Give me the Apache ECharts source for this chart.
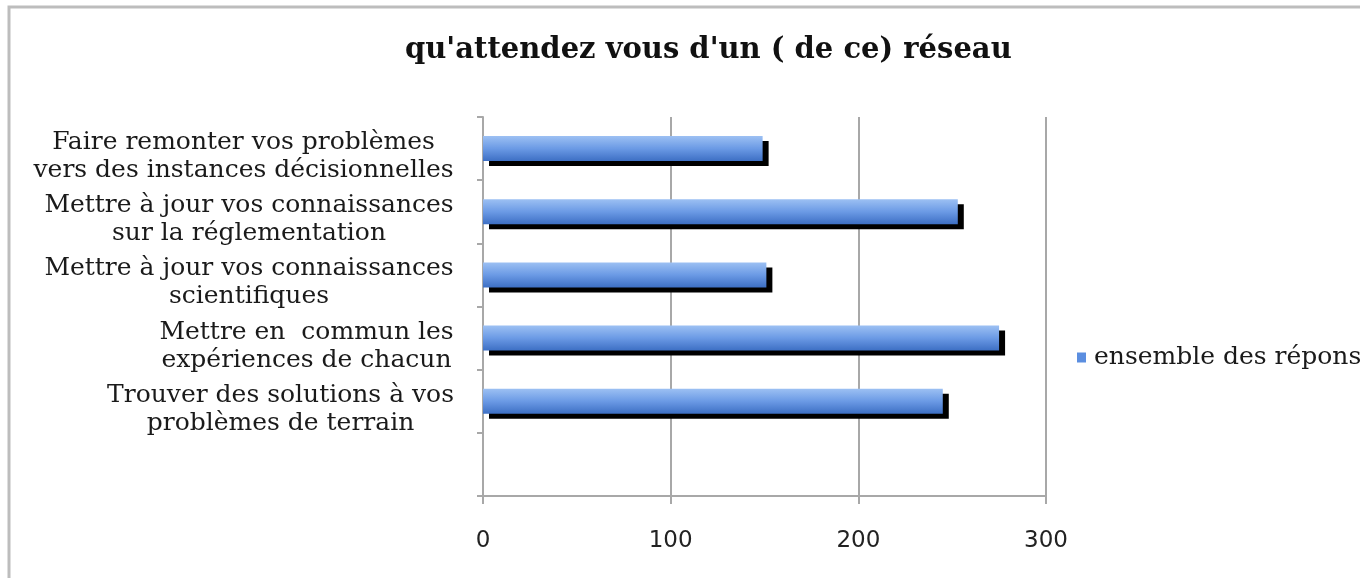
<!DOCTYPE html>
<html>
<head>
<meta charset="utf-8">
<script src="https://cdn.jsdelivr.net/npm/echarts@6/dist/echarts.min.js"></script>
<style>
html,body{margin:0;padding:0;background:#fff;}
#c{width:1360px;height:578px;}
</style>
</head>
<body>
<div id="c"></div>
<script>
const titleText = "qu'attendez vous d'un ( de ce) réseau";
const categories = [
  "Faire remonter vos problèmes\nvers des instances décisionnelles",
  "Mettre à jour vos connaissances\nsur la réglementation",
  "Mettre à jour vos connaissances\nscientifiques",
  "Mettre en  commun les\nexpériences de chacun",
  "Trouver des solutions à vos\nproblèmes de terrain",
  ""
];
const seriesName = "ensemble des réponses";
const values = [149, 253, 151, 275, 245, null];
const xTicks = [0, 100, 200, 300];

const LABEL_FONT = 'DejaVu Serif';
const LABEL_SIZE = 25;

// measure each label block so its lines can be centred within the block,
// while the block itself is right-aligned against the axis (Excel style)
const ctx = document.createElement('canvas').getContext('2d');
ctx.font = LABEL_SIZE + 'px "' + LABEL_FONT + '"';
const rich = {};
categories.forEach((c, i) => {
  const w = Math.max(1, ...c.split('\n').map(l => ctx.measureText(l).width));
  rich['r' + i] = {
    width: Math.ceil(w) + 2, align: 'center',
    fontFamily: LABEL_FONT, fontSize: LABEL_SIZE, lineHeight: 28, color: '#1a1a1a'
  };
});

const chart = echarts.init(document.getElementById('c'));
chart.setOption({
  backgroundColor: '#fff',
  animation: false,
  title: {
    text: titleText,
    left: 400,
    top: 31,
    textStyle: {fontFamily: 'DejaVu Serif', fontWeight: 'bold', fontSize: 29, color: '#111'}
  },
  graphic: [{
    type: 'polyline',
    shape: {points: [[9, 578], [9, 7], [1360, 7]]},
    style: {stroke: '#bdbdbd', lineWidth: 3, fill: null}
  }],
  legend: {
    left: 1072,
    top: 340,
    orient: 'vertical',
    itemWidth: 9,
    itemHeight: 10,
    itemGap: 5,
    icon: 'rect',
    textStyle: {fontFamily: LABEL_FONT, fontSize: LABEL_SIZE, color: '#1a1a1a', padding: [0, 0, 0, 3]},
    data: [{name: seriesName, itemStyle: {color: '#5b8ee0', shadowColor: 'transparent'}}]
  },
  grid: {left: 483, right: 314, top: 117, bottom: 82, containLabel: false},
  xAxis: {
    type: 'value',
    min: xTicks[0],
    max: xTicks[xTicks.length - 1],
    interval: 100,
    axisLine: {show: true, lineStyle: {color: '#a8a8a8', width: 2}},
    axisTick: {show: true, length: 8, lineStyle: {color: '#a8a8a8', width: 2}},
    splitLine: {show: true, lineStyle: {color: '#a8a8a8', width: 2}},
    axisLabel: {margin: 34, fontFamily: 'DejaVu Sans', fontSize: 23, color: '#222'}
  },
  yAxis: {
    type: 'category',
    inverse: true,
    data: categories,
    axisLine: {show: true, lineStyle: {color: '#a8a8a8', width: 2}},
    axisTick: {show: true, length: 6, interval: 0, lineStyle: {color: '#a8a8a8', width: 2}},
    axisLabel: {
      interval: 0, margin: 28, align: 'right',
      padding: [16, 0, 0, 0],
      rich: rich,
      formatter: (v, i) => v ? v.split('\n').map(l => '{r' + i + '|' + l + '}').join('\n') : ''
    }
  },
  series: [{
    name: seriesName,
    type: 'bar',
    data: values,
    barWidth: 25,
    itemStyle: {
      color: new echarts.graphic.LinearGradient(0, 0, 0, 1, [
        {offset: 0, color: '#9cc0f3'},
        {offset: 0.5, color: '#6b9ae5'},
        {offset: 1, color: '#3d6fc4'}
      ]),
      shadowColor: '#000',
      shadowBlur: 0,
      shadowOffsetX: 6,
      shadowOffsetY: 5
    }
  }]
});
</script>
</body>
</html>
